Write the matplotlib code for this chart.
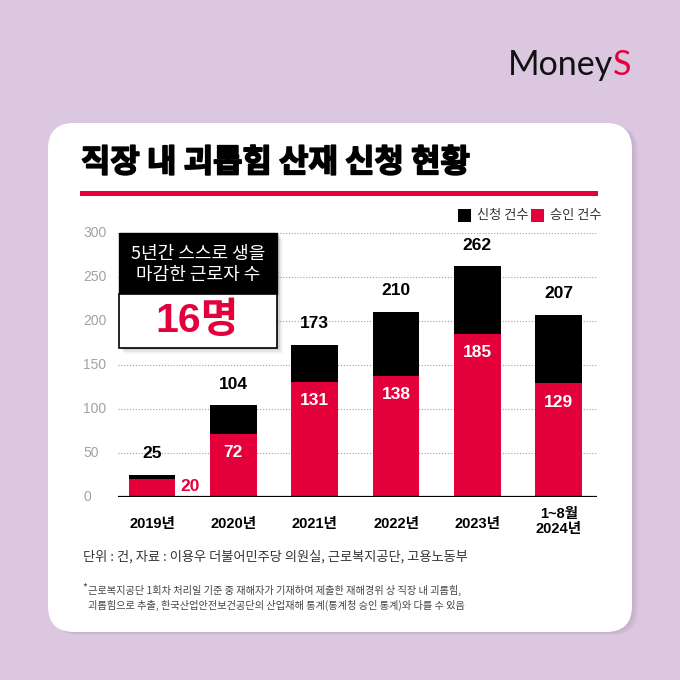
import matplotlib
matplotlib.use("Agg")
import matplotlib.pyplot as plt
import matplotlib.patheffects as pe
from matplotlib.patches import FancyBboxPatch, Rectangle

# data
years = ["2019년", "2020년", "2021년", "2022년", "2023년", "1~8월\n2024년"]
applied = [25, 104, 173, 210, 262, 207]     # 신청 건수
approved = [20, 72, 131, 138, 185, 129]     # 승인 건수
yticks = [0, 50, 100, 150, 200, 250, 300]

BG = "#dcc7e0"
RED = "#e4003a"
KR = ["Noto Sans CJK KR", "DejaVu Sans"]
NUM = ["Liberation Sans", "Noto Sans CJK KR"]

W = 680


def fx(x):
    return x / W


def fy(y):
    return 1 - y / W


fig = plt.figure(figsize=(6.8, 6.8), dpi=100)
fig.patch.set_facecolor(BG)

# card shadow + card
for i, a in enumerate([0.05, 0.05, 0.06]):
    d = 2 + i * 2
    fig.patches.append(FancyBboxPatch(
        (fx(48 + d), fy(632 + d / 2)), fx(584), (632 - 123) / W,
        boxstyle="round,pad=0,rounding_size=%f" % (26 / W),
        transform=fig.transFigure, facecolor="#5a3a6a", alpha=a,
        edgecolor="none", zorder=0))
fig.patches.append(FancyBboxPatch(
    (fx(48), fy(632)), fx(584), (632 - 123) / W,
    boxstyle="round,pad=0,rounding_size=%f" % (26 / W),
    transform=fig.transFigure, facecolor="white", edgecolor="none", zorder=1))

# logo
t = fig.text(fx(508), fy(65), "Money", fontsize=24.5, family=["Lato", "DejaVu Sans"],
             color="#111111", va="center", ha="left")
fig.canvas.draw()
bb = t.get_window_extent()
fig.text(bb.x1 / W, fy(65), "S", fontsize=24.5, family=["Lato", "DejaVu Sans"],
         color=RED, va="center", ha="left")

# title and red rule
fig.text(fx(81), fy(163), "직장 내 괴롭힘 산재 신청 현황", fontsize=23,
         family=KR, weight="black", color="black", va="center", ha="left",
         path_effects=[pe.withStroke(linewidth=1.2, foreground="black")])
fig.patches.append(Rectangle((fx(80), fy(196)), fx(518), 5 / W,
                             transform=fig.transFigure, facecolor=RED,
                             edgecolor="none", zorder=3))

# legend
fig.patches.append(Rectangle((fx(458), fy(222)), 13 / W, 13 / W,
                             transform=fig.transFigure, facecolor="black",
                             edgecolor="none", zorder=3))
fig.text(fx(477), fy(215), "신청 건수", fontsize=9.5, family=KR, color="#333333",
         va="center", ha="left")
fig.patches.append(Rectangle((fx(531), fy(222)), 13 / W, 13 / W,
                             transform=fig.transFigure, facecolor=RED,
                             edgecolor="none", zorder=3))
fig.text(fx(550), fy(215), "승인 건수", fontsize=9.5, family=KR, color="#333333",
         va="center", ha="left")

# chart
ax = fig.add_axes([fx(118), fy(497), fx(479), 264 / W])
ax.set_facecolor("none")
ax.set_zorder(2)
x = list(range(len(years)))
ax.set_xlim(-0.418, 5.47)
ax.set_ylim(0, 300)
for s in ax.spines.values():
    s.set_visible(False)
ax.set_xticks([])
ax.set_yticks([])

for v in yticks[1:]:
    ax.axhline(v, color="#a0a0a0", lw=0.8, ls=(0, (1, 1.6)), zorder=1)
ax.axhline(0, color="black", lw=1.6, zorder=4)

for v in yticks:
    ax.text(-0.073, v, str(v), transform=ax.get_yaxis_transform(),
            fontsize=10, family=NUM, color="#a3a3a3", ha="left", va="center")

bw = 0.572
ax.bar(x, applied, width=bw, color="black", zorder=2)
ax.bar(x, approved, width=bw, color=RED, zorder=3)

for i in x:
    ax.annotate(str(applied[i]), (i, applied[i]), xytext=(0, 10),
                textcoords="offset points", ha="center", va="bottom",
                fontsize=12.5, weight="bold", family=NUM, color="black")
    if i == 0:
        ax.annotate(str(approved[i]), (i + bw / 2, 0), xytext=(4, 2),
                    textcoords="offset points", ha="left", va="bottom",
                    fontsize=12.5, weight="bold", family=NUM, color=RED)
    else:
        ax.annotate(str(approved[i]), (i, approved[i]), xytext=(0, -8),
                    textcoords="offset points", ha="center", va="top",
                    fontsize=12.5, weight="bold", family=NUM, color="white")
    lines = years[i].split("\n")
    if len(lines) == 1:
        ax.annotate(lines[0], (i, 0), xytext=(0, -19.5), textcoords="offset points",
                    ha="center", va="center", fontsize=10.5, weight="bold",
                    family=NUM, color="black")
    else:
        ax.annotate(lines[0], (i, 0), xytext=(0, -12), textcoords="offset points",
                    ha="center", va="center", fontsize=10.5, weight="bold",
                    family=NUM, color="black")
        ax.annotate(lines[1], (i, 0), xytext=(0, -23), textcoords="offset points",
                    ha="center", va="center", fontsize=10.5, weight="bold",
                    family=NUM, color="black")

# callout box
for i, a in enumerate([0.10, 0.08, 0.06, 0.04]):
    d = 1 + i * 1.5
    fig.patches.append(Rectangle((fx(119 + d), fy(348 + d)), fx(158), (348 - 233) / W,
                                 transform=fig.transFigure, facecolor="#000000",
                                 alpha=a, edgecolor="none", zorder=5))
fig.patches.append(Rectangle((fx(119), fy(294)), fx(158), (294 - 233) / W,
                             transform=fig.transFigure, facecolor="black",
                             edgecolor="black", lw=1, zorder=6))
fig.patches.append(Rectangle((fx(119), fy(348)), fx(158), (348 - 294) / W,
                             transform=fig.transFigure, facecolor="white",
                             edgecolor="black", lw=1.2, zorder=6))
fig.text(fx(198), fy(254), "5년간 스스로 생을", fontsize=13, family=KR,
         weight="medium", color="white", ha="center", va="center", zorder=7)
fig.text(fx(198), fy(275), "마감한 근로자 수", fontsize=13, family=KR,
         weight="medium", color="white", ha="center", va="center", zorder=7)
fig.text(fx(197), fy(321), "16명", fontsize=29.5, family=NUM, weight="bold",
         color=RED, ha="center", va="center", zorder=7)

# footnotes
fig.text(fx(83), fy(557), "단위 : 건, 자료 : 이용우 더불어민주당 의원실, 근로복지공단, 고용노동부",
         fontsize=9.5, family=KR, weight="light", color="#333333",
         ha="left", va="center", zorder=7)
fig.text(fx(82), fy(588), "*", fontsize=7.5, family=KR, color="#444444",
         ha="left", va="center", zorder=7)
fig.text(fx(88), fy(590), "근로복지공단 1회차 처리일 기준 중 재해자가 기재하여 제출한 재해경위 상 직장 내 괴롭힘,",
         fontsize=7.35, family=KR, weight="light", color="#444444",
         ha="left", va="center", zorder=7)
fig.text(fx(88), fy(605), "괴롭힘으로 추출, 한국산업안전보건공단의 산업재해 통계(통계청 승인 통계)와 다를 수 있음",
         fontsize=7.35, family=KR, weight="light", color="#444444",
         ha="left", va="center", zorder=7)

fig.savefig("out.png", dpi=100, facecolor=BG)
